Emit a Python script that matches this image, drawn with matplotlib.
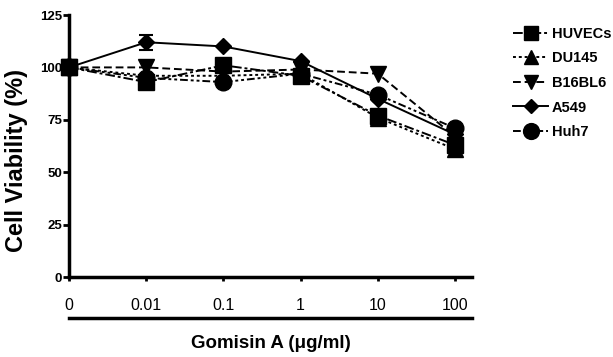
import matplotlib
matplotlib.use("Agg")
import matplotlib.pyplot as plt
import numpy as np

plt.rcParams['font.family'] = ['Liberation Sans', 'DejaVu Sans']

doses = ["0", "0.01", "0.1", "1", "10", "100"]
huvecs = [100, 93, 101, 96, 77, 63]
du145 = [100, 96, 96, 97, 76, 61]
b16bl6 = [100, 100, 98, 99, 97, 67]
a549 = [100, 112, 110, 103, 85, 68]
huh7 = [100, 95, 93, 97, 87, 71]
a549_err = [0, 3.5, 0, 0, 0, 0]

series = [
    ("HUVECs", huvecs, 's', (0, (5, 1.5, 1.5, 1.5))),
    ("DU145", du145, '^', (0, (1.5, 1.5))),
    ("B16BL6", b16bl6, 'v', (0, (4, 2))),
    ("A549", a549, 'D', '-'),
    ("Huh7", huh7, 'o', (0, (4, 1.5, 1.5, 1.5, 1.5, 1.5))),
]
sizes = {'s': 11, '^': 11, 'v': 11, 'D': 8, 'o': 12}

fig = plt.figure(figsize=(6.13, 3.57), dpi=100)
ax = fig.add_axes([69/613, 80/357, (472-69)/613, 262/357])
x = np.arange(len(doses))
handles = []
for name, vals, mk, ls in series:
    h, = ax.plot(x, vals, color='black', marker=mk, markersize=sizes[mk], linestyle=ls,
                 linewidth=1.4, clip_on=False, zorder=3, label=name)
    handles.append(h)
ax.errorbar(x, a549, yerr=a549_err, fmt='none', ecolor='black', elinewidth=1.3,
            capsize=5, capthick=1.5, clip_on=False, zorder=2)

ax.set_xlim(0, 5.22)
ax.set_ylim(0, 125)
ax.set_yticks([0, 25, 50, 75, 100, 125])
ax.set_xticks(x)
ax.set_xticklabels(doses, fontsize=11.5)
for lbl in ax.get_yticklabels():
    lbl.set_fontsize(9.5)
    lbl.set_fontweight('bold')
ax.tick_params(axis='y', direction='out', length=4, width=2, pad=1)
ax.tick_params(axis='x', direction='out', length=3, width=2, pad=12)
for s in ['top', 'right']:
    ax.spines[s].set_visible(False)
for s in ['left', 'bottom']:
    ax.spines[s].set_linewidth(2.5)

ax.plot([0, 1], [-41/262, -41/262], transform=ax.transAxes, color='black',
        linewidth=2.5, clip_on=False)

fig.text(17/613, 1 - 160/357, "Cell Viability (%)", fontsize=17, fontweight='bold',
         rotation=90, ha='center', va='center')
fig.text(271/613, 1 - 343/357, "Gomisin A (\u03bcg/ml)", fontsize=13.5,
         fontweight='bold', ha='center', va='center')

leg = fig.legend(handles=handles, loc='upper left', bbox_to_anchor=(513/613, 1 - 27/357),
                 frameon=False, fontsize=10.5, handlelength=2.4, labelspacing=0.72,
                 handletextpad=0.25, borderaxespad=0, borderpad=0, markerscale=0.95)
for t in leg.get_texts():
    t.set_fontweight('bold')

fig.savefig("out.png", dpi=100)
